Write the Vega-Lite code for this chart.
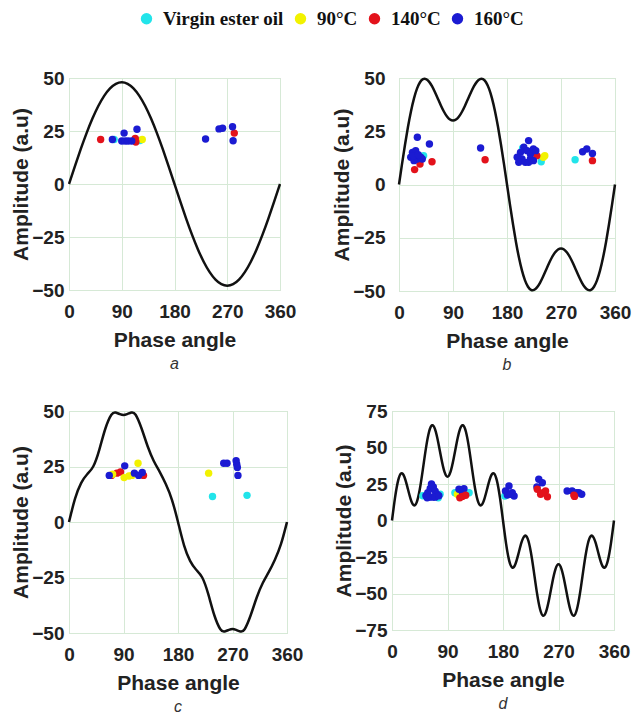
{
  "$schema": "https://vega.github.io/schema/vega-lite/v6.json",
  "background": "white",
  "padding": {"left": 10, "top": 9, "right": 2, "bottom": 2},
  "config": {
    "font": "Liberation Sans",
    "view": {"stroke": "#cccccc", "strokeWidth": 1},
    "axis": {"labelFont": "Liberation Sans", "labelFontWeight": "bold", "labelFontSize": 19, "labelColor": "#222222", "titleFont": "Liberation Sans", "titleFontWeight": "bold", "titleFontSize": 21, "titleColor": "#222222", "grid": true, "gridColor": "#d6e9d6", "ticks": false, "domain": false, "labelFlush": false, "labelOverlap": false, "tickCount": 10},
    "title": {"font": "Liberation Sans", "fontStyle": "italic", "fontWeight": "normal", "fontSize": 16, "orient": "bottom", "color": "#333333", "offset": 6},
    "legend": {"orient": "none", "direction": "horizontal", "legendX": 68, "legendY": -69, "title": null, "labelFont": "Liberation Serif", "labelFontWeight": "bold", "labelFontSize": 19, "labelColor": "#111111", "symbolType": "circle", "symbolSize": 130, "symbolStrokeWidth": 0, "columnPadding": 7, "labelOffset": 7}
  },
  "datasets": {
    "curves": [
      {"p":"a","x":0,"y":0},{"p":"a","x":10,"y":8.33},{"p":"a","x":20,"y":16.42},{"p":"a","x":30,"y":24},{"p":"a","x":40,"y":30.85},{"p":"a","x":50,"y":36.77},{"p":"a","x":60,"y":41.57},{"p":"a","x":70,"y":45.11},{"p":"a","x":80,"y":47.27},{"p":"a","x":90,"y":48},{"p":"a","x":100,"y":47.27},{"p":"a","x":110,"y":45.11},{"p":"a","x":120,"y":41.57},{"p":"a","x":130,"y":36.77},{"p":"a","x":140,"y":30.85},{"p":"a","x":150,"y":24},{"p":"a","x":160,"y":16.42},{"p":"a","x":170,"y":8.33},{"p":"a","x":180,"y":0},{"p":"a","x":190,"y":-8.33},{"p":"a","x":200,"y":-16.42},{"p":"a","x":210,"y":-24},{"p":"a","x":220,"y":-30.85},{"p":"a","x":230,"y":-36.77},{"p":"a","x":240,"y":-41.57},{"p":"a","x":250,"y":-45.11},{"p":"a","x":260,"y":-47.27},{"p":"a","x":270,"y":-48},{"p":"a","x":280,"y":-47.27},{"p":"a","x":290,"y":-45.11},{"p":"a","x":300,"y":-41.57},{"p":"a","x":310,"y":-36.77},{"p":"a","x":320,"y":-30.85},{"p":"a","x":330,"y":-24},{"p":"a","x":340,"y":-16.42},{"p":"a","x":350,"y":-8.33},{"p":"a","x":360,"y":0},
      {"p":"b","x":0,"y":0},{"p":"b","x":5,"y":9.54},{"p":"b","x":10,"y":18.68},{"p":"b","x":15,"y":27.08},{"p":"b","x":20,"y":34.42},{"p":"b","x":25,"y":40.45},{"p":"b","x":30,"y":45},{"p":"b","x":35,"y":48},{"p":"b","x":40,"y":49.46},{"p":"b","x":45,"y":49.5},{"p":"b","x":50,"y":48.3},{"p":"b","x":55,"y":46.14},{"p":"b","x":60,"y":43.3},{"p":"b","x":65,"y":40.14},{"p":"b","x":70,"y":36.98},{"p":"b","x":75,"y":34.16},{"p":"b","x":80,"y":31.92},{"p":"b","x":85,"y":30.49},{"p":"b","x":90,"y":30},{"p":"b","x":95,"y":30.49},{"p":"b","x":100,"y":31.92},{"p":"b","x":105,"y":34.16},{"p":"b","x":110,"y":36.98},{"p":"b","x":115,"y":40.14},{"p":"b","x":120,"y":43.3},{"p":"b","x":125,"y":46.14},{"p":"b","x":130,"y":48.3},{"p":"b","x":135,"y":49.5},{"p":"b","x":140,"y":49.46},{"p":"b","x":145,"y":48},{"p":"b","x":150,"y":45},{"p":"b","x":155,"y":40.45},{"p":"b","x":160,"y":34.42},{"p":"b","x":165,"y":27.08},{"p":"b","x":170,"y":18.68},{"p":"b","x":175,"y":9.54},{"p":"b","x":180,"y":0},{"p":"b","x":185,"y":-9.54},{"p":"b","x":190,"y":-18.68},{"p":"b","x":195,"y":-27.08},{"p":"b","x":200,"y":-34.42},{"p":"b","x":205,"y":-40.45},{"p":"b","x":210,"y":-45},{"p":"b","x":215,"y":-48},{"p":"b","x":220,"y":-49.46},{"p":"b","x":225,"y":-49.5},{"p":"b","x":230,"y":-48.3},{"p":"b","x":235,"y":-46.14},{"p":"b","x":240,"y":-43.3},{"p":"b","x":245,"y":-40.14},{"p":"b","x":250,"y":-36.98},{"p":"b","x":255,"y":-34.16},{"p":"b","x":260,"y":-31.92},{"p":"b","x":265,"y":-30.49},{"p":"b","x":270,"y":-30},{"p":"b","x":275,"y":-30.49},{"p":"b","x":280,"y":-31.92},{"p":"b","x":285,"y":-34.16},{"p":"b","x":290,"y":-36.98},{"p":"b","x":295,"y":-40.14},{"p":"b","x":300,"y":-43.3},{"p":"b","x":305,"y":-46.14},{"p":"b","x":310,"y":-48.3},{"p":"b","x":315,"y":-49.5},{"p":"b","x":320,"y":-49.46},{"p":"b","x":325,"y":-48},{"p":"b","x":330,"y":-45},{"p":"b","x":335,"y":-40.45},{"p":"b","x":340,"y":-34.42},{"p":"b","x":345,"y":-27.08},{"p":"b","x":350,"y":-18.68},{"p":"b","x":355,"y":-9.54},{"p":"b","x":360,"y":0},
      {"p":"c","x":0,"y":0},{"p":"c","x":10,"y":10.5},{"p":"c","x":20,"y":17.5},{"p":"c","x":30,"y":21.5},{"p":"c","x":40,"y":25},{"p":"c","x":50,"y":32.5},{"p":"c","x":60,"y":42},{"p":"c","x":70,"y":48.3},{"p":"c","x":77,"y":49.3},{"p":"c","x":84,"y":48.6},{"p":"c","x":90,"y":48.2},{"p":"c","x":96,"y":48.6},{"p":"c","x":103,"y":49.3},{"p":"c","x":110,"y":48.3},{"p":"c","x":120,"y":42},{"p":"c","x":130,"y":34},{"p":"c","x":140,"y":27.5},{"p":"c","x":150,"y":22.5},{"p":"c","x":160,"y":17},{"p":"c","x":170,"y":10},{"p":"c","x":180,"y":0},{"p":"c","x":190,"y":-10.5},{"p":"c","x":200,"y":-17.5},{"p":"c","x":210,"y":-21.5},{"p":"c","x":220,"y":-25},{"p":"c","x":230,"y":-32.5},{"p":"c","x":240,"y":-42},{"p":"c","x":250,"y":-48.3},{"p":"c","x":257,"y":-49.3},{"p":"c","x":264,"y":-48.6},{"p":"c","x":270,"y":-48.2},{"p":"c","x":276,"y":-48.6},{"p":"c","x":283,"y":-49.3},{"p":"c","x":290,"y":-48.3},{"p":"c","x":300,"y":-42},{"p":"c","x":310,"y":-34},{"p":"c","x":320,"y":-27.5},{"p":"c","x":330,"y":-22.5},{"p":"c","x":340,"y":-17},{"p":"c","x":350,"y":-10},{"p":"c","x":360,"y":0},
      {"p":"d","x":0,"y":0},{"p":"d","x":5,"y":15.83},{"p":"d","x":10,"y":27.47},{"p":"d","x":15,"y":32.26},{"p":"d","x":20,"y":29.96},{"p":"d","x":25,"y":22.87},{"p":"d","x":30,"y":15},{"p":"d","x":35,"y":10.55},{"p":"d","x":40,"y":12.44},{"p":"d","x":45,"y":21.22},{"p":"d","x":50,"y":34.83},{"p":"d","x":55,"y":49.41},{"p":"d","x":60,"y":60.62},{"p":"d","x":65,"y":65.24},{"p":"d","x":70,"y":62.3},{"p":"d","x":75,"y":53.48},{"p":"d","x":80,"y":42.4},{"p":"d","x":85,"y":33.43},{"p":"d","x":90,"y":30},{"p":"d","x":95,"y":33.43},{"p":"d","x":100,"y":42.4},{"p":"d","x":105,"y":53.48},{"p":"d","x":110,"y":62.3},{"p":"d","x":115,"y":65.24},{"p":"d","x":120,"y":60.62},{"p":"d","x":125,"y":49.41},{"p":"d","x":130,"y":34.83},{"p":"d","x":135,"y":21.22},{"p":"d","x":140,"y":12.44},{"p":"d","x":145,"y":10.55},{"p":"d","x":150,"y":15},{"p":"d","x":155,"y":22.87},{"p":"d","x":160,"y":29.96},{"p":"d","x":165,"y":32.26},{"p":"d","x":170,"y":27.47},{"p":"d","x":175,"y":15.83},{"p":"d","x":180,"y":0},{"p":"d","x":185,"y":-15.83},{"p":"d","x":190,"y":-27.47},{"p":"d","x":195,"y":-32.26},{"p":"d","x":200,"y":-29.96},{"p":"d","x":205,"y":-22.87},{"p":"d","x":210,"y":-15},{"p":"d","x":215,"y":-10.55},{"p":"d","x":220,"y":-12.44},{"p":"d","x":225,"y":-21.22},{"p":"d","x":230,"y":-34.83},{"p":"d","x":235,"y":-49.41},{"p":"d","x":240,"y":-60.62},{"p":"d","x":245,"y":-65.24},{"p":"d","x":250,"y":-62.3},{"p":"d","x":255,"y":-53.48},{"p":"d","x":260,"y":-42.4},{"p":"d","x":265,"y":-33.43},{"p":"d","x":270,"y":-30},{"p":"d","x":275,"y":-33.43},{"p":"d","x":280,"y":-42.4},{"p":"d","x":285,"y":-53.48},{"p":"d","x":290,"y":-62.3},{"p":"d","x":295,"y":-65.24},{"p":"d","x":300,"y":-60.62},{"p":"d","x":305,"y":-49.41},{"p":"d","x":310,"y":-34.83},{"p":"d","x":315,"y":-21.22},{"p":"d","x":320,"y":-12.44},{"p":"d","x":325,"y":-10.55},{"p":"d","x":330,"y":-15},{"p":"d","x":335,"y":-22.87},{"p":"d","x":340,"y":-29.96},{"p":"d","x":345,"y":-32.26},{"p":"d","x":350,"y":-27.47},{"p":"d","x":355,"y":-15.83},{"p":"d","x":360,"y":0}
    ],
    "points": [
      {"p":"a","c":"Virgin ester oil","x":77,"y":21},{"p":"a","c":"Virgin ester oil","x":121,"y":20.5},{"p":"a","c":"90°C","x":125,"y":21},
      {"p":"a","c":"140°C","x":54,"y":21},{"p":"a","c":"140°C","x":113,"y":21.5},{"p":"a","c":"140°C","x":114,"y":19.8},{"p":"a","c":"140°C","x":282,"y":24},
      {"p":"a","c":"160°C","x":74,"y":21},{"p":"a","c":"160°C","x":90,"y":20.3},{"p":"a","c":"160°C","x":94,"y":24},{"p":"a","c":"160°C","x":96,"y":20.3},{"p":"a","c":"160°C","x":101,"y":20.3},{"p":"a","c":"160°C","x":107,"y":20.3},{"p":"a","c":"160°C","x":116,"y":25.8},{"p":"a","c":"160°C","x":233,"y":21.2},{"p":"a","c":"160°C","x":256,"y":26},{"p":"a","c":"160°C","x":262,"y":26.3},{"p":"a","c":"160°C","x":279,"y":27},{"p":"a","c":"160°C","x":280,"y":20.4},
      {"p":"b","c":"Virgin ester oil","x":41,"y":13.5},{"p":"b","c":"Virgin ester oil","x":28,"y":14},{"p":"b","c":"Virgin ester oil","x":206,"y":17},{"p":"b","c":"Virgin ester oil","x":237,"y":10.7},{"p":"b","c":"Virgin ester oil","x":293.5,"y":11.6},
      {"p":"b","c":"90°C","x":240.5,"y":12.8},{"p":"b","c":"90°C","x":243,"y":13.5},
      {"p":"b","c":"140°C","x":26,"y":7},{"p":"b","c":"140°C","x":35,"y":9.6},{"p":"b","c":"140°C","x":55,"y":10.7},{"p":"b","c":"140°C","x":143.5,"y":11.6},{"p":"b","c":"140°C","x":229.6,"y":13.5},{"p":"b","c":"140°C","x":322.4,"y":11.2},
      {"p":"b","c":"160°C","x":30.6,"y":22.2},{"p":"b","c":"160°C","x":50.7,"y":19},{"p":"b","c":"160°C","x":22.4,"y":15.1},{"p":"b","c":"160°C","x":27.8,"y":15.9},{"p":"b","c":"160°C","x":19.6,"y":12.8},{"p":"b","c":"160°C","x":30.6,"y":12},{"p":"b","c":"160°C","x":25,"y":11.2},{"p":"b","c":"160°C","x":36,"y":12.8},{"p":"b","c":"160°C","x":38.8,"y":12},{"p":"b","c":"160°C","x":24,"y":13.5},{"p":"b","c":"160°C","x":32,"y":14},{"p":"b","c":"160°C","x":136,"y":17.1},{"p":"b","c":"160°C","x":216,"y":20.6},{"p":"b","c":"160°C","x":208,"y":17.5},{"p":"b","c":"160°C","x":202.5,"y":15.1},{"p":"b","c":"160°C","x":213.5,"y":15.9},{"p":"b","c":"160°C","x":219,"y":14.3},{"p":"b","c":"160°C","x":224,"y":16.7},{"p":"b","c":"160°C","x":197,"y":12.8},{"p":"b","c":"160°C","x":205,"y":12},{"p":"b","c":"160°C","x":219,"y":12},{"p":"b","c":"160°C","x":224,"y":11.2},{"p":"b","c":"160°C","x":199.6,"y":10.4},{"p":"b","c":"160°C","x":210.5,"y":10.4},{"p":"b","c":"160°C","x":216,"y":10.4},{"p":"b","c":"160°C","x":228,"y":15.9},{"p":"b","c":"160°C","x":306,"y":15.4},{"p":"b","c":"160°C","x":313,"y":16.7},{"p":"b","c":"160°C","x":322.4,"y":14.6},
      {"p":"c","c":"Virgin ester oil","x":237,"y":11.5},{"p":"c","c":"Virgin ester oil","x":294,"y":12},
      {"p":"c","c":"140°C","x":70,"y":21},{"p":"c","c":"140°C","x":79,"y":22},{"p":"c","c":"140°C","x":85,"y":22.5},{"p":"c","c":"140°C","x":123,"y":21},
      {"p":"c","c":"90°C","x":72,"y":21.5},{"p":"c","c":"90°C","x":91,"y":20},{"p":"c","c":"90°C","x":99,"y":20.7},{"p":"c","c":"90°C","x":104,"y":21},{"p":"c","c":"90°C","x":114,"y":26.5},{"p":"c","c":"90°C","x":230.6,"y":22},
      {"p":"c","c":"160°C","x":66.5,"y":21},{"p":"c","c":"160°C","x":92,"y":25.3},{"p":"c","c":"160°C","x":108,"y":22},{"p":"c","c":"160°C","x":115,"y":21},{"p":"c","c":"160°C","x":121,"y":22.3},{"p":"c","c":"160°C","x":255.5,"y":26.5},{"p":"c","c":"160°C","x":261,"y":26.5},{"p":"c","c":"160°C","x":276,"y":27.6},{"p":"c","c":"160°C","x":277,"y":26},{"p":"c","c":"160°C","x":278,"y":24.6},{"p":"c","c":"160°C","x":279,"y":21},
      {"p":"d","c":"Virgin ester oil","x":50,"y":17},{"p":"d","c":"Virgin ester oil","x":78,"y":18},{"p":"d","c":"Virgin ester oil","x":75,"y":15.5},{"p":"d","c":"Virgin ester oil","x":102,"y":19},{"p":"d","c":"Virgin ester oil","x":125,"y":19},{"p":"d","c":"Virgin ester oil","x":183,"y":16.8},
      {"p":"d","c":"90°C","x":106,"y":18},
      {"p":"d","c":"160°C","x":55,"y":17},{"p":"d","c":"160°C","x":58,"y":19},{"p":"d","c":"160°C","x":62,"y":22},{"p":"d","c":"160°C","x":64,"y":25},{"p":"d","c":"160°C","x":67,"y":23},{"p":"d","c":"160°C","x":70,"y":20},{"p":"d","c":"160°C","x":73,"y":18},{"p":"d","c":"160°C","x":60,"y":16},{"p":"d","c":"160°C","x":66,"y":16},{"p":"d","c":"160°C","x":70,"y":16},{"p":"d","c":"160°C","x":76,"y":17},{"p":"d","c":"160°C","x":57,"y":15.5},
      {"p":"d","c":"160°C","x":108.6,"y":21.4},{"p":"d","c":"160°C","x":116.7,"y":21.8},{"p":"d","c":"160°C","x":114,"y":19.5},
      {"p":"d","c":"140°C","x":114,"y":16.5},{"p":"d","c":"140°C","x":119.5,"y":17.3},{"p":"d","c":"140°C","x":110,"y":15.5},
      {"p":"d","c":"160°C","x":189.7,"y":23.6},{"p":"d","c":"160°C","x":184,"y":20.2},{"p":"d","c":"160°C","x":195,"y":19},{"p":"d","c":"160°C","x":198,"y":16.8},{"p":"d","c":"160°C","x":187,"y":17.5},{"p":"d","c":"160°C","x":192,"y":18},
      {"p":"d","c":"160°C","x":238,"y":28.2},{"p":"d","c":"160°C","x":243.8,"y":25.9},{"p":"d","c":"160°C","x":235,"y":23},
      {"p":"d","c":"140°C","x":235.6,"y":21.4},{"p":"d","c":"140°C","x":249,"y":20.2},{"p":"d","c":"140°C","x":241,"y":18},{"p":"d","c":"140°C","x":252,"y":16.3},{"p":"d","c":"140°C","x":245,"y":19},
      {"p":"d","c":"160°C","x":284,"y":20.2},{"p":"d","c":"160°C","x":292,"y":20.2},{"p":"d","c":"160°C","x":303,"y":19},{"p":"d","c":"160°C","x":307.6,"y":18},{"p":"d","c":"160°C","x":299.5,"y":19},
      {"p":"d","c":"140°C","x":295,"y":17.3},{"p":"d","c":"140°C","x":296,"y":16.5}
    ]
  },
  "vconcat": [
    {
      "spacing": 34,
      "hconcat": [
        {
          "width": 211, "height": 212, "title": {"text": "a"},
          "layer": [
            {"data": {"name": "curves"}, "transform": [{"filter": "datum.p === 'a'"}], "mark": {"type": "line", "color": "#111111", "strokeWidth": 2.5, "interpolate": "natural"},
             "encoding": {"x": {"field": "x", "type": "quantitative", "scale": {"domain": [0, 360], "nice": false}, "axis": {"values": [0, 90, 180, 270, 360], "title": "Phase angle", "labelPadding": 12, "titlePadding": 8, "labelOverlap": false}},
                          "y": {"field": "y", "type": "quantitative", "scale": {"domain": [-50, 50], "nice": false}, "axis": {"values": [-50, -25, 0, 25, 50], "title": "Amplitude (a.u)", "labelPadding": 5, "titlePadding": 0, "labelOverlap": false}}}},
            {"data": {"name": "points"}, "transform": [{"filter": "datum.p === 'a'"}], "mark": {"type": "circle", "size": 55, "opacity": 1},
             "encoding": {"x": {"field": "x", "type": "quantitative", "scale": {"domain": [0, 360], "nice": false}}, "y": {"field": "y", "type": "quantitative", "scale": {"domain": [-50, 50], "nice": false}},
                          "color": {"field": "c", "type": "nominal", "scale": {"domain": ["Virgin ester oil", "90°C", "140°C", "160°C"], "range": ["#22e4ea", "#f2f200", "#e3121b", "#1b1bd2"]}}}}
          ]
        },
        {
          "width": 216, "height": 213, "title": {"text": "b"},
          "layer": [
            {"data": {"name": "curves"}, "transform": [{"filter": "datum.p === 'b'"}], "mark": {"type": "line", "color": "#111111", "strokeWidth": 2.5, "interpolate": "natural"},
             "encoding": {"x": {"field": "x", "type": "quantitative", "scale": {"domain": [0, 360], "nice": false}, "axis": {"values": [0, 90, 180, 270, 360], "title": "Phase angle", "labelPadding": 12, "titlePadding": 8, "labelOverlap": false}},
                          "y": {"field": "y", "type": "quantitative", "scale": {"domain": [-50, 50], "nice": false}, "axis": {"values": [-50, -25, 0, 25, 50], "title": "Amplitude (a.u)", "labelPadding": 14, "titlePadding": 0, "labelOverlap": false}}}},
            {"data": {"name": "points"}, "transform": [{"filter": "datum.p === 'b'"}], "mark": {"type": "circle", "size": 55, "opacity": 1},
             "encoding": {"x": {"field": "x", "type": "quantitative", "scale": {"domain": [0, 360], "nice": false}}, "y": {"field": "y", "type": "quantitative", "scale": {"domain": [-50, 50], "nice": false}},
                          "color": {"field": "c", "type": "nominal", "scale": {"domain": ["Virgin ester oil", "90°C", "140°C", "160°C"], "range": ["#22e4ea", "#f2f200", "#e3121b", "#1b1bd2"]}}}}
          ]
        }
      ]
    },
    {
      "spacing": 29,
      "hconcat": [
        {
          "width": 218, "height": 222, "title": {"text": "c"},
          "layer": [
            {"data": {"name": "curves"}, "transform": [{"filter": "datum.p === 'c'"}], "mark": {"type": "line", "color": "#111111", "strokeWidth": 2.5, "interpolate": "natural"},
             "encoding": {"x": {"field": "x", "type": "quantitative", "scale": {"domain": [0, 360], "nice": false}, "axis": {"values": [0, 90, 180, 270, 360], "title": "Phase angle", "labelPadding": 12, "titlePadding": 8, "labelOverlap": false}},
                          "y": {"field": "y", "type": "quantitative", "scale": {"domain": [-50, 50], "nice": false}, "axis": {"values": [-50, -25, 0, 25, 50], "title": "Amplitude (a.u)", "labelPadding": 5, "titlePadding": 0, "labelOverlap": false}}}},
            {"data": {"name": "points"}, "transform": [{"filter": "datum.p === 'c'"}], "mark": {"type": "circle", "size": 55, "opacity": 1},
             "encoding": {"x": {"field": "x", "type": "quantitative", "scale": {"domain": [0, 360], "nice": false}}, "y": {"field": "y", "type": "quantitative", "scale": {"domain": [-50, 50], "nice": false}},
                          "color": {"field": "c", "type": "nominal", "scale": {"domain": ["Virgin ester oil", "90°C", "140°C", "160°C"], "range": ["#22e4ea", "#f2f200", "#e3121b", "#1b1bd2"]}}}}
          ]
        },
        {
          "width": 222, "height": 219, "title": {"text": "d"},
          "layer": [
            {"data": {"name": "curves"}, "transform": [{"filter": "datum.p === 'd'"}], "mark": {"type": "line", "color": "#111111", "strokeWidth": 2.5, "interpolate": "natural"},
             "encoding": {"x": {"field": "x", "type": "quantitative", "scale": {"domain": [0, 360], "nice": false}, "axis": {"values": [0, 90, 180, 270, 360], "title": "Phase angle", "labelPadding": 12, "titlePadding": 8, "labelOverlap": false}},
                          "y": {"field": "y", "type": "quantitative", "scale": {"domain": [-75, 75], "nice": false}, "axis": {"values": [-75, -50, -25, 0, 25, 50, 75], "tickCount": 10, "title": "Amplitude (a.u)", "labelPadding": 5, "titlePadding": 0, "labelOverlap": false}}}},
            {"data": {"name": "points"}, "transform": [{"filter": "datum.p === 'd'"}], "mark": {"type": "circle", "size": 55, "opacity": 1},
             "encoding": {"x": {"field": "x", "type": "quantitative", "scale": {"domain": [0, 360], "nice": false}}, "y": {"field": "y", "type": "quantitative", "scale": {"domain": [-75, 75], "nice": false}},
                          "color": {"field": "c", "type": "nominal", "scale": {"domain": ["Virgin ester oil", "90°C", "140°C", "160°C"], "range": ["#22e4ea", "#f2f200", "#e3121b", "#1b1bd2"]}}}}
          ]
        }
      ]
    }
  ],
  "spacing": 27
}
